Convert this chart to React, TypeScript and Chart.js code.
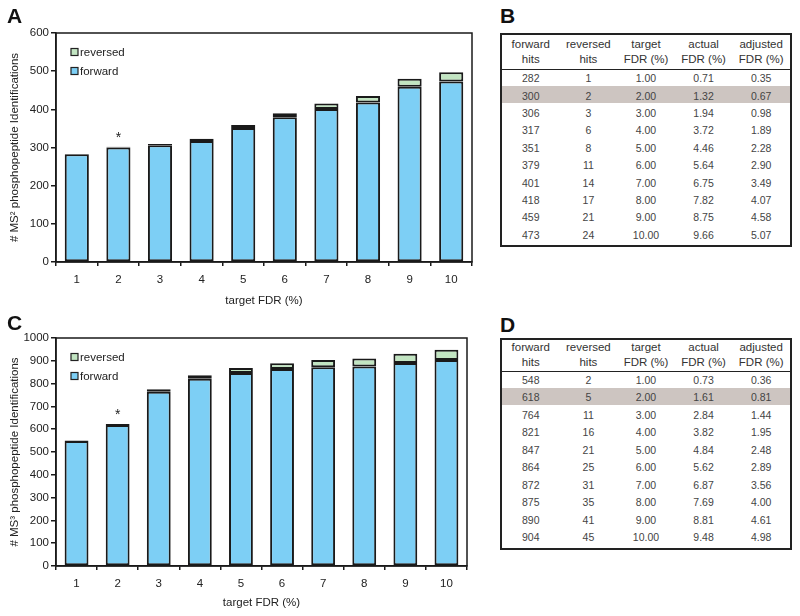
import React, { useEffect, useRef } from "react";
import { Chart, registerables } from "chart.js";

Chart.register(...registerables);

const FONT = '"Liberation Sans", Arial, Helvetica, sans-serif';

// ---- data ----
const categories = ["1", "2", "3", "4", "5", "6", "7", "8", "9", "10"];

const ms2Forward = [282, 300, 306, 317, 351, 379, 401, 418, 459, 473];
const ms2Reversed = [1, 2, 3, 6, 8, 11, 14, 17, 21, 24];
const ms2TargetFDR = ["1.00", "2.00", "3.00", "4.00", "5.00", "6.00", "7.00", "8.00", "9.00", "10.00"];
const ms2ActualFDR = ["0.71", "1.32", "1.94", "3.72", "4.46", "5.64", "6.75", "7.82", "8.75", "9.66"];
const ms2AdjustedFDR = ["0.35", "0.67", "0.98", "1.89", "2.28", "2.90", "3.49", "4.07", "4.58", "5.07"];

const ms3Forward = [548, 618, 764, 821, 847, 864, 872, 875, 890, 904];
const ms3Reversed = [2, 5, 11, 16, 21, 25, 31, 35, 41, 45];
const ms3TargetFDR = ["1.00", "2.00", "3.00", "4.00", "5.00", "6.00", "7.00", "8.00", "9.00", "10.00"];
const ms3ActualFDR = ["0.73", "1.61", "2.84", "3.82", "4.84", "5.62", "6.87", "7.69", "8.81", "9.48"];
const ms3AdjustedFDR = ["0.36", "0.81", "1.44", "1.95", "2.48", "2.89", "3.56", "4.00", "4.61", "4.98"];

const ms2YMax = 600;
const ms3YMax = 1000;
const yStep = 100;
const markedIndex = 1; // asterisk + highlighted row

const tableHeaders: [string, string][] = [
  ["forward", "hits"],
  ["reversed", "hits"],
  ["target", "FDR (%)"],
  ["actual", "FDR (%)"],
  ["adjusted", "FDR (%)"],
];

const FORWARD_COLOR = "#7dcff5";
const REVERSED_COLOR = "#c2e5c2";
const LINE = "#1a1a1a";

const framePlugin = {
  id: "frame",
  afterDraw(chart: any) {
    const { ctx, chartArea: a } = chart;
    ctx.save();
    ctx.strokeStyle = LINE;
    ctx.lineWidth = 1.5;
    ctx.strokeRect(a.left, a.top, a.right - a.left, a.bottom - a.top);

    // legend inside plot
    const items = [...chart.data.datasets].reverse();
    ctx.font = `11.5px ${FONT}`;
    ctx.textBaseline = "middle";
    ctx.textAlign = "left";
    items.forEach((ds: any, i: number) => {
      const y = a.top + 19 + i * 19;
      const x = a.left + 15;
      ctx.fillStyle = ds.backgroundColor;
      ctx.fillRect(x, y - 3.5, 7, 7);
      ctx.lineWidth = 1.2;
      ctx.strokeStyle = "#222";
      ctx.strokeRect(x, y - 3.5, 7, 7);
      ctx.fillStyle = "#222";
      ctx.fillText(ds.label, x + 9, y + 0.5);
    });

    // asterisk
    const idx = chart.options.plugins.frame.markIndex;
    const meta = chart.getDatasetMeta(chart.data.datasets.length - 1);
    const bar = meta.data[idx];
    if (bar) {
      ctx.font = `14px ${FONT}`;
      ctx.textAlign = "center";
      ctx.fillStyle = "#222";
      ctx.fillText("*", bar.x, bar.y - 9);
    }
    ctx.restore();
  },
};

type BarProps = {
  top: number;
  forward: number[];
  reversed: number[];
  yMax: number;
  yTitle: string;
  padTop: number;
  padRight: number;
  xHeight: number;
  padBottom: number;
};

function BarPanel(p: BarProps) {
  const ref = useRef<HTMLCanvasElement | null>(null);
  useEffect(() => {
    if (!ref.current) return;
    const common = {
      borderColor: LINE,
      borderWidth: 2,
      borderSkipped: false,
      stack: "s",
      barPercentage: 0.58,
      categoryPercentage: 1,
    };
    const chart = new Chart(ref.current, {
      type: "bar",
      data: {
        labels: categories,
        datasets: [
          { label: "forward", data: p.forward, backgroundColor: FORWARD_COLOR, ...common } as any,
          { label: "reversed", data: p.reversed, backgroundColor: REVERSED_COLOR, ...common } as any,
        ],
      },
      options: {
        animation: false,
        responsive: false,
        maintainAspectRatio: false,
        layout: { padding: { top: p.padTop, right: p.padRight, left: 4, bottom: p.padBottom } },
        plugins: {
          legend: { display: false },
          tooltip: { enabled: false },
          frame: { markIndex: markedIndex },
        } as any,
        scales: {
          x: {
            stacked: true,
            grid: {
              display: true,
              drawOnChartArea: false,
              drawTicks: true,
              tickLength: 4,
              color: LINE,
              lineWidth: 1.5,
              offset: true,
            },
            border: { display: true, color: LINE, width: 1.5 },
            ticks: { color: "#222", font: { size: 11.5, family: FONT }, padding: 7 },
            title: {
              display: true,
              text: "target FDR (%)",
              color: "#222",
              font: { size: 11.5, family: FONT },
            },
            afterFit: (s: any) => {
              s.height = p.xHeight;
            },
          },
          y: {
            stacked: true,
            min: 0,
            max: p.yMax,
            ticks: {
              stepSize: yStep,
              color: "#222",
              font: { size: 11.5, family: FONT },
              padding: 2,
              callback: (v: any) => String(v),
            },
            grid: {
              display: true,
              drawOnChartArea: false,
              drawTicks: true,
              tickLength: 5,
              color: LINE,
              lineWidth: 1.5,
            },
            border: { display: true, color: LINE, width: 1.5 },
            title: {
              display: true,
              text: p.yTitle,
              color: "#222",
              font: { size: 11.5, family: FONT },
            },
            afterFit: (s: any) => {
              s.width = 52;
            },
          },
        },
      } as any,
      plugins: [framePlugin],
    });
    return () => chart.destroy();
  }, []);
  return (
    <canvas
      ref={ref}
      width={480}
      height={316}
      style={{ position: "absolute", left: 0, top: p.top, width: 480, height: 316 }}
    />
  );
}

type TableProps = {
  top: number;
  headerHeight: number;
  rowHeight: number;
  bottomPad: number;
  forward: number[];
  reversed: number[];
  target: string[];
  actual: string[];
  adjusted: string[];
};

function FdrTable(p: TableProps) {
  const rows = p.forward.map((f, i) => [String(f), String(p.reversed[i]), p.target[i], p.actual[i], p.adjusted[i]]);
  return (
    <div
      style={{
        position: "absolute",
        left: 500,
        top: p.top,
        width: 292,
        border: "2px solid #222",
        boxSizing: "border-box",
        fontFamily: FONT,
        background: "#fff",
      }}
    >
      <div
        style={{
          display: "flex",
          height: p.headerHeight,
          alignItems: "center",
          borderBottom: "1.5px solid #222",
          fontSize: 11.5,
          lineHeight: "15px",
          color: "#333",
        }}
      >
        {tableHeaders.map((h, i) => (
          <div key={i} style={{ flex: 1, textAlign: "center" }}>
            {h[0]}
            <br />
            {h[1]}
          </div>
        ))}
      </div>
      {rows.map((r, i) => (
        <div
          key={i}
          style={{
            display: "flex",
            height: i === 0 ? 16 : p.rowHeight,
            alignItems: "center",
            paddingTop: i === 0 ? 0 : 2,
            boxSizing: "border-box",
            background: i === markedIndex ? "#cdc5c1" : "transparent",
            fontSize: 10.5,
            color: "#444",
          }}
        >
          {r.map((c, j) => (
            <div key={j} style={{ flex: 1, textAlign: "center" }}>
              {c}
            </div>
          ))}
        </div>
      ))}
      <div style={{ height: p.bottomPad }} />
    </div>
  );
}

function Letter({ text, left, top }: { text: string; left: number; top: number }) {
  return (
    <div
      style={{
        position: "absolute",
        left,
        top,
        fontFamily: FONT,
        fontWeight: "bold",
        fontSize: 21,
        lineHeight: "21px",
        color: "#111",
      }}
    >
      {text}
    </div>
  );
}

export default function App() {
  return (
    <div style={{ position: "absolute", left: 0, top: 0, width: 800, height: 616, overflow: "hidden", background: "#fff" }}>
      <BarPanel
        top={0}
        forward={ms2Forward}
        reversed={ms2Reversed}
        yMax={ms2YMax}
        yTitle="# MS² phosphopeptide Identifications"
        padTop={33}
        padRight={8}
        xHeight={50}
        padBottom={4}
      />
      <BarPanel
        top={300}
        forward={ms3Forward}
        reversed={ms3Reversed}
        yMax={ms3YMax}
        yTitle="# MS³ phosphopeptide Identifications"
        padTop={38}
        padRight={13}
        xHeight={48}
        padBottom={2}
      />
      <FdrTable
        top={33}
        headerHeight={34}
        rowHeight={17.4}
        bottomPad={2}
        forward={ms2Forward}
        reversed={ms2Reversed}
        target={ms2TargetFDR}
        actual={ms2ActualFDR}
        adjusted={ms2AdjustedFDR}
      />
      <FdrTable
        top={338}
        headerHeight={30.5}
        rowHeight={17.5}
        bottomPad={2.5}
        forward={ms3Forward}
        reversed={ms3Reversed}
        target={ms3TargetFDR}
        actual={ms3ActualFDR}
        adjusted={ms3AdjustedFDR}
      />
      <Letter text="A" left={7} top={5} />
      <Letter text="B" left={500} top={5} />
      <Letter text="C" left={7} top={312} />
      <Letter text="D" left={500} top={314} />
    </div>
  );
}
